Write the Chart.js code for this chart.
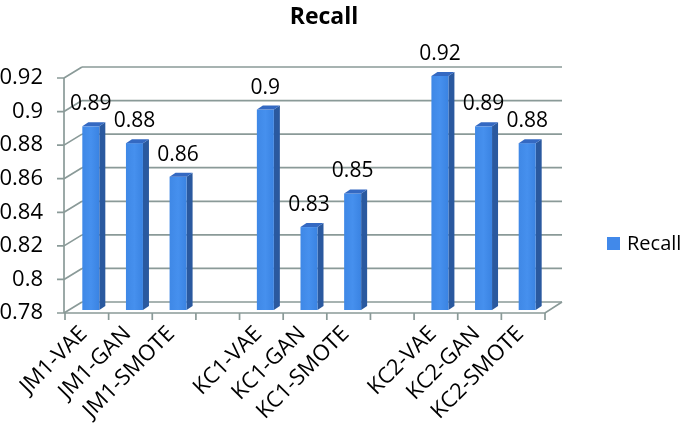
<!DOCTYPE html>
<html>
<head>
<meta charset="utf-8">
<script src="https://cdn.jsdelivr.net/npm/chart.js@4.4.1/dist/chart.umd.min.js"></script>
<style>
  html, body { margin: 0; padding: 0; background: #ffffff; }
  #wrap { width: 685px; height: 428px; }
</style>
</head>
<body>
<div id="wrap"><canvas id="c" width="685" height="428"></canvas></div>
<script>
const categories = ['JM1-VAE', 'JM1-GAN', 'JM1-SMOTE', '', 'KC1-VAE', 'KC1-GAN', 'KC1-SMOTE', '', 'KC2-VAE', 'KC2-GAN', 'KC2-SMOTE'];
const recall = [0.89, 0.88, 0.86, null, 0.90, 0.83, 0.85, null, 0.92, 0.89, 0.88];
const yTickValues = [0.78, 0.80, 0.82, 0.84, 0.86, 0.88, 0.90, 0.92];
const seriesName = 'Recall';
const chartTitle = 'Recall';

const FONT = '"Open Sans", "DejaVu Sans", sans-serif';
const GRID = '#8a9a98';
const DX = 17, DY = -11;          // depth of the 3D box
const BAR_DX = 6, BAR_DY = -4;    // depth of each bar
const BAR_SHIFT = 4, BAR_HALF = 8.5;

const threeD = {
  id: 'threeD',
  beforeDatasetsDraw(chart) {
    const ctx = chart.ctx;
    const x = chart.scales.x, y = chart.scales.y;
    const L = chart.chartArea.left, R = chart.chartArea.right;
    const B = y.getPixelForValue(yTickValues[0]);
    ctx.save();
    ctx.strokeStyle = GRID;
    ctx.lineWidth = 1.7;
    yTickValues.forEach(v => {
      const py = y.getPixelForValue(v);
      ctx.beginPath();
      ctx.moveTo(L + DX, py + DY);
      ctx.lineTo(R + DX, py + DY);
      ctx.moveTo(L - 1, py);
      ctx.lineTo(L + DX, py + DY);
      ctx.moveTo(L - 8, py);
      ctx.lineTo(L - 1, py);
      ctx.stroke();
    });
    ctx.beginPath();
    ctx.moveTo(L - 1, y.getPixelForValue(yTickValues[yTickValues.length - 1]));
    ctx.lineTo(L - 1, B);
    ctx.stroke();
    ctx.beginPath();
    ctx.moveTo(L - 1, B);
    ctx.lineTo(R, B);
    ctx.lineTo(R + DX, B + DY);
    ctx.stroke();
    const n = categories.length;
    const w = (R - L) / n;
    ctx.beginPath();
    for (let i = 0; i <= n; i++) {
      const px = L + i * w;
      ctx.moveTo(px, B);
      ctx.lineTo(px, B + 7);
    }
    ctx.stroke();

    const meta = chart.getDatasetMeta(0);
    const yb = B - 3;
    meta.data.forEach((el, i) => {
      const v = recall[i];
      if (v === null || v === undefined) return;
      const cx = el.x + BAR_SHIFT;
      const x0 = cx - BAR_HALF, x1 = cx + BAR_HALF;
      const yt = el.y - 2;
      ctx.fillStyle = '#2a599f';
      ctx.beginPath();
      ctx.moveTo(x1, yt); ctx.lineTo(x1 + BAR_DX, yt + BAR_DY);
      ctx.lineTo(x1 + BAR_DX, yb + BAR_DY); ctx.lineTo(x1, yb);
      ctx.closePath(); ctx.fill();
      const g = ctx.createLinearGradient(x0, 0, x1, 0);
      g.addColorStop(0, '#3f88e6');
      g.addColorStop(0.5, '#4690ee');
      g.addColorStop(1, '#3a83e2');
      ctx.fillStyle = g;
      ctx.fillRect(x0, yt, x1 - x0, yb - yt);
      ctx.fillStyle = '#3469c2';
      ctx.beginPath();
      ctx.moveTo(x0, yt); ctx.lineTo(x0 + BAR_DX, yt + BAR_DY);
      ctx.lineTo(x1 + BAR_DX, yt + BAR_DY); ctx.lineTo(x1, yt);
      ctx.closePath(); ctx.fill();
    });
    ctx.restore();
    return false;
  },
  afterDraw(chart) {
    const ctx = chart.ctx;
    const meta = chart.getDatasetMeta(0);
    ctx.save();
    ctx.fillStyle = '#000000';
    ctx.font = '21px ' + FONT;
    ctx.textAlign = 'center';
    ctx.textBaseline = 'middle';
    meta.data.forEach((el, i) => {
      const v = recall[i];
      if (v === null || v === undefined) return;
      const label = Number(v.toFixed(2)).toString();
      ctx.fillText(label, el.x + BAR_SHIFT, el.y - 24);
    });
    ctx.font = 'bold 23px ' + FONT;
    ctx.fillText(chartTitle, 324, 17);
    ctx.fillStyle = '#4189ea';
    ctx.fillRect(607, 237, 13, 13);
    ctx.fillStyle = '#000000';
    ctx.font = '20px ' + FONT;
    ctx.textAlign = 'left';
    ctx.fillText(seriesName, 627, 244);
    ctx.restore();
  }
};

new Chart(document.getElementById('c'), {
  type: 'bar',
  data: {
    labels: categories,
    datasets: [{
      label: seriesName,
      data: recall,
      backgroundColor: '#4189ea'
    }]
  },
  options: {
    responsive: false,
    animation: false,
    layout: { padding: { top: 78, right: 140, left: 0, bottom: 0 } },
    plugins: {
      legend: { display: false },
      title: { display: false },
      tooltip: { enabled: false }
    },
    scales: {
      x: {
        type: 'category',
        grid: { display: false, drawTicks: false },
        border: { display: false },
        ticks: {
          autoSkip: false,
          minRotation: 45,
          maxRotation: 45,
          padding: 8,
          labelOffset: -3,
          color: '#000000',
          font: { family: FONT, size: 22 }
        },
        afterFit(scale) { scale.height = 115; }
      },
      y: {
        min: 0.78,
        max: 0.92,
        grid: { display: false, drawTicks: false },
        border: { display: false },
        afterBuildTicks(scale) { scale.ticks = yTickValues.map(v => ({ value: v })); },
        ticks: {
          padding: 22,
          color: '#000000',
          font: { family: FONT, size: 22 },
          callback: (v) => Number(Number(v).toFixed(2)).toString()
        },
        afterFit(scale) { scale.width = 65; }
      }
    }
  },
  plugins: [threeD]
});
</script>
</body>
</html>
